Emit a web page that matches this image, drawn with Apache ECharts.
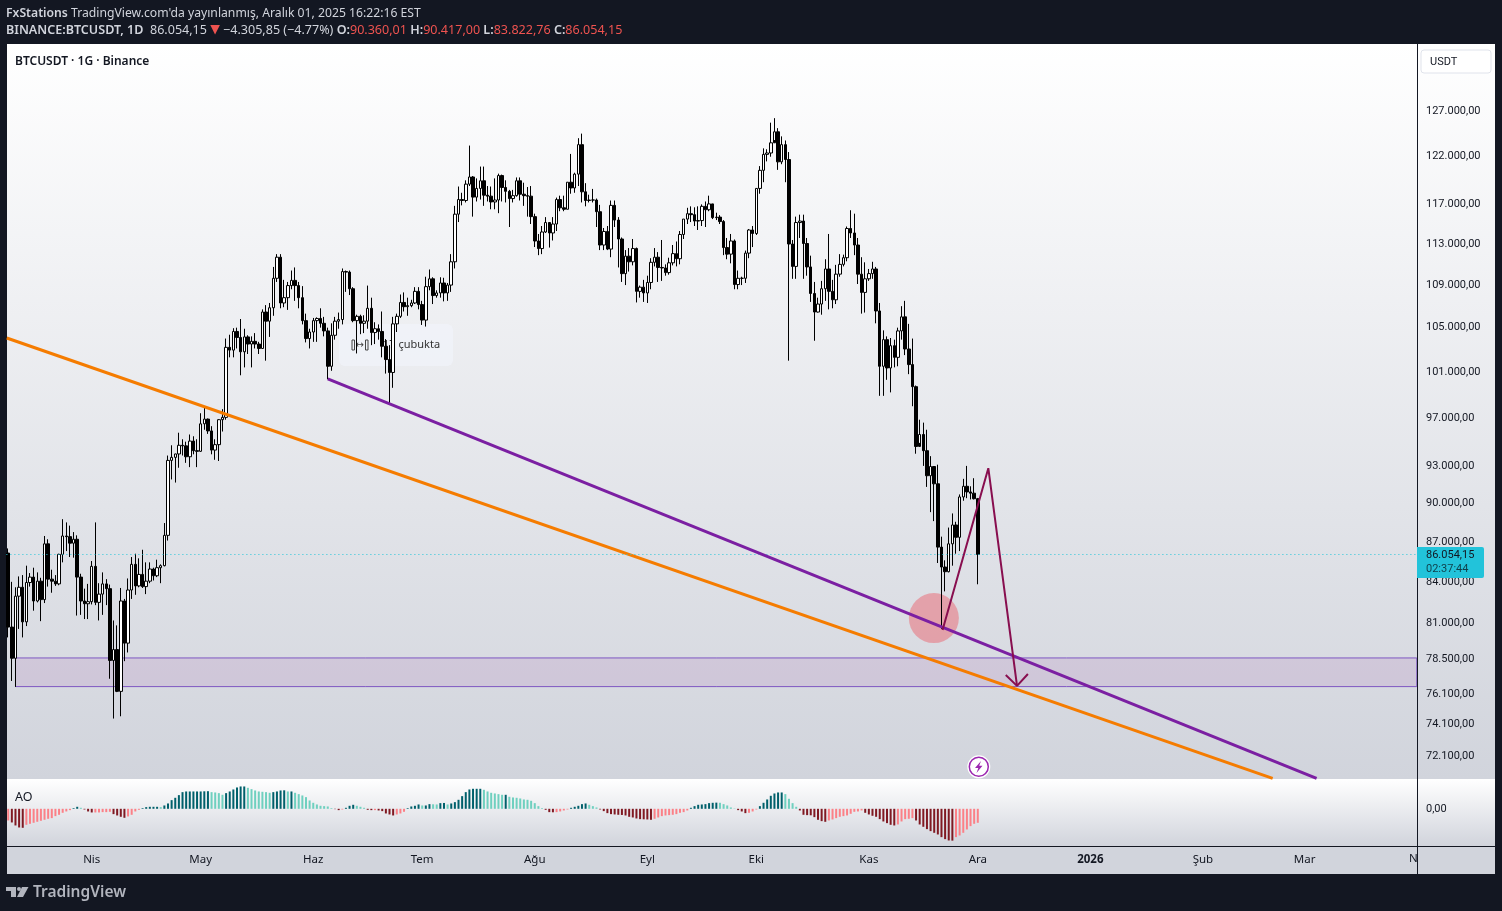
<!DOCTYPE html>
<html><head><meta charset="utf-8">
<style>html,body{margin:0;padding:0;background:#131722;overflow:hidden}#c{width:1502px;height:911px}</style>
<script src="https://cdn.jsdelivr.net/npm/echarts@6/dist/echarts.min.js"></script>
</head><body><div id="c"></div>
<script>
// Prices in thousands of USDT, daily candles from 2025-03-09 to 2025-12-01
const opens=[86.15,80.73,78.55,82.95,83.6,81.1,83.95,84.35,82.6,84.05,82.7,86.85,84.2,84.05,83.85,86.05,87.45,87.4,86.9,87.2,84.35,82.6,82.4,82.55,85.15,82.5,83.1,83.85,83.5,78.4,79.15,76.3,82.6,79.6,83.4,85.3,83.7,84.55,83.65,84.05,84.95,84.45,85.05,85.2,87.5,93.45,93.7,93.98,94.7,94.65,93.75,95.05,94.25,94.2,96.5,96.9,95.9,94.3,94.75,96.85,97.05,103.2,102.95,104.65,104.1,102.8,104.15,103.5,103.75,103.5,103.1,106.45,105.6,106.85,109.65,111.7,107.3,107.8,108.95,109.45,108.95,107.8,105.65,104.0,104.6,105.65,105.85,105.4,104.7,101.5,104.3,105.6,105.75,110.3,110.25,108.65,105.65,106.05,105.4,105.6,106.8,104.55,104.9,104.65,103.3,102.1,100.95,105.35,106.05,107.35,106.95,107.05,107.3,108.4,107.15,105.7,108.85,109.6,108.0,108.25,109.2,108.25,109.0,111.25,116.0,117.5,117.4,119.1,119.85,117.75,118.65,119.45,117.95,117.85,117.25,117.45,120.0,118.75,118.35,117.6,117.9,119.45,118.05,117.9,117.85,115.75,113.3,112.55,114.2,115.15,114.1,115.0,117.5,116.65,116.5,119.3,118.7,120.15,123.3,118.3,117.4,117.45,117.45,116.25,112.9,114.25,112.5,116.9,115.4,113.5,110.1,111.8,111.25,112.55,108.4,108.8,108.25,109.25,111.2,111.7,110.7,110.65,110.2,111.15,112.05,111.55,113.95,115.5,116.05,115.95,115.3,115.35,116.8,116.45,117.05,115.65,115.7,115.25,112.65,112.0,113.3,109.05,109.65,109.65,112.1,114.4,114.05,118.65,120.55,122.25,122.4,123.5,124.7,121.45,123.3,121.7,113.0,110.8,115.15,115.3,113.05,110.75,108.2,106.45,107.2,108.65,110.55,108.4,107.6,110.05,111.0,111.65,114.55,114.1,112.9,110.05,108.3,109.6,110.1,110.55,106.55,101.5,103.9,101.35,103.35,102.3,104.7,106.0,103.05,101.65,99.7,94.6,95.6,94.25,92.2,92.95,91.55,86.6,85.1,84.75,86.85,88.3,87.35,90.5,91.35,90.9,90.8,90.36];
const closes=[80.73,78.55,82.95,83.6,81.1,83.95,84.35,82.6,84.05,82.7,86.85,84.2,84.05,83.85,86.05,87.45,87.4,86.9,87.2,84.35,82.6,82.4,82.55,85.15,82.5,83.1,83.85,83.5,78.4,79.15,76.3,82.6,79.6,83.4,85.3,83.7,84.55,83.65,84.05,84.95,84.45,85.05,85.2,87.5,93.45,93.7,93.98,94.7,94.65,93.75,95.05,94.25,94.2,96.5,96.9,95.9,94.3,94.75,96.85,97.05,103.2,102.95,104.65,104.1,102.8,104.15,103.5,103.75,103.5,103.1,106.45,105.6,106.85,109.65,111.7,107.3,107.8,108.95,109.45,108.95,107.8,105.65,104.0,104.6,105.65,105.85,105.4,104.7,101.5,104.3,105.6,105.75,110.3,110.25,108.65,105.65,106.05,105.4,105.6,106.8,104.55,104.9,104.65,103.3,102.1,100.95,105.35,106.05,107.35,106.95,107.05,107.3,108.4,107.15,105.7,108.85,109.6,108.0,108.25,109.2,108.25,109.0,111.25,116.0,117.5,117.4,119.1,119.85,117.75,118.65,119.45,117.95,117.85,117.25,117.45,120.0,118.75,118.35,117.6,117.9,119.45,118.05,117.9,117.85,115.75,113.3,112.55,114.2,115.15,114.1,115.0,117.5,116.65,116.5,119.3,118.7,120.15,123.3,118.3,117.4,117.45,117.45,116.25,112.9,114.25,112.5,116.9,115.4,113.5,110.1,111.8,111.25,112.55,108.4,108.8,108.25,109.25,111.2,111.7,110.7,110.65,110.2,111.15,112.05,111.55,113.95,115.5,116.05,115.95,115.3,115.35,116.8,116.45,117.05,115.65,115.7,115.25,112.65,112.0,113.3,109.05,109.65,109.65,112.1,114.4,114.05,118.65,120.55,122.25,122.4,123.5,124.7,121.45,123.3,121.7,113.0,110.8,115.15,115.3,113.05,110.75,108.2,106.45,107.2,108.65,110.55,108.4,107.6,110.05,111.0,111.65,114.55,114.1,112.9,110.05,108.3,109.6,110.1,110.55,106.55,101.5,103.9,101.35,103.35,102.3,104.7,106.0,103.05,101.65,99.7,94.6,95.6,94.25,92.2,92.95,91.55,86.6,85.1,84.75,86.85,88.3,87.35,90.5,91.35,90.9,90.8,90.36,86.05];
const highs=[86.5,84.0,83.6,84.4,84.5,85.2,84.65,85.05,84.7,84.3,87.45,87.2,84.9,84.5,86.1,88.75,88.5,88.25,87.75,87.5,84.6,83.5,83.85,85.55,88.5,83.9,84.7,84.2,83.8,81.2,80.85,83.55,82.75,84.25,85.85,86.1,85.75,86.4,85.45,85.45,85.05,85.65,85.3,88.45,93.85,94.7,94.0,95.75,95.2,95.0,95.6,95.45,95.2,97.4,97.9,96.95,96.3,95.2,96.9,97.75,104.0,104.35,104.95,105.0,105.8,104.9,104.3,104.2,104.5,103.7,106.7,107.1,107.3,110.75,112.0,112.0,109.5,109.3,110.4,110.7,109.3,108.9,106.3,104.9,105.9,105.95,106.8,106.0,105.0,105.4,106.0,106.4,110.6,110.4,110.4,108.8,106.2,106.2,106.15,108.95,107.8,105.5,105.3,106.5,103.95,103.4,106.0,106.3,108.1,108.3,107.8,107.6,108.8,108.8,107.5,109.8,110.5,109.75,108.5,109.75,109.7,109.2,112.0,116.85,118.85,118.2,119.5,123.2,119.95,119.7,120.95,120.95,118.9,118.85,119.7,120.2,120.1,119.5,118.5,118.5,119.8,119.8,119.25,118.8,118.9,116.05,114.0,114.8,115.7,115.15,115.7,117.7,117.9,117.9,119.3,122.3,120.3,124.0,124.5,119.2,118.0,118.6,117.6,116.95,114.6,114.8,117.4,117.4,115.7,113.65,112.4,112.6,113.5,112.65,108.95,109.5,109.9,111.6,112.6,112.2,113.4,111.0,111.65,112.9,113.25,114.3,115.5,116.65,116.8,116.7,116.8,117.0,117.3,117.9,117.0,116.15,115.9,115.4,113.6,114.0,113.45,110.4,109.8,112.35,114.5,114.8,118.65,121.0,122.9,122.8,125.7,126.2,125.1,124.2,123.75,122.5,113.4,115.75,115.95,115.95,113.6,111.85,109.3,107.8,109.4,111.5,114.0,109.5,110.95,112.0,111.95,114.75,116.4,116.05,113.6,111.7,111.2,110.55,111.25,110.75,107.3,104.75,104.2,104.05,103.9,105.0,107.0,107.5,105.35,104.0,99.8,96.85,96.6,96.0,93.8,92.95,93.1,87.4,85.6,88.1,89.2,88.55,90.7,91.95,93.0,91.35,92.0,90.42];
const lows=[80.0,77.0,76.6,80.6,80.0,80.8,83.65,81.9,82.5,81.15,82.45,83.65,83.2,83.7,83.75,85.45,86.3,85.85,85.8,81.55,81.6,81.3,81.3,82.35,82.3,81.2,81.6,82.3,77.15,74.5,76.25,74.65,78.35,78.95,82.75,83.05,83.6,83.55,83.1,83.9,84.1,84.35,83.9,85.15,87.1,91.9,91.65,92.85,93.85,93.25,92.9,93.95,92.9,94.15,96.0,95.65,93.95,93.5,93.4,95.85,96.85,102.3,102.3,103.1,100.7,101.4,102.6,101.4,103.1,102.6,103.1,102.0,104.15,106.1,109.3,106.8,106.9,106.65,108.6,107.5,106.8,105.3,103.65,103.1,103.7,103.7,105.0,104.2,100.35,101.1,103.9,104.9,105.3,108.35,108.05,105.5,102.65,104.4,104.5,104.9,103.4,103.5,103.9,102.3,100.85,98.15,99.6,104.6,105.9,106.5,106.1,106.9,107.2,106.7,105.25,105.1,108.5,107.2,107.8,107.8,107.45,107.5,108.35,110.6,115.2,116.9,117.2,118.9,115.75,117.3,117.5,116.85,117.3,116.5,116.5,116.1,117.3,117.2,114.7,117.2,117.8,117.4,116.85,115.75,115.0,112.7,111.9,112.0,114.1,112.65,113.35,114.3,116.3,116.3,116.5,118.1,118.2,118.9,117.2,116.8,117.2,117.2,114.7,112.4,112.4,112.4,111.7,114.7,110.7,109.3,109.0,110.3,110.9,107.35,107.8,107.4,107.3,108.6,110.8,109.3,109.4,109.9,110.0,110.9,110.8,111.0,113.5,115.0,115.2,114.8,114.4,114.8,114.7,116.3,115.5,115.4,115.0,111.9,111.5,111.1,108.6,108.6,109.0,109.2,111.6,112.7,113.9,118.1,119.3,121.5,122.0,123.8,120.6,121.2,119.3,102.0,109.6,109.6,113.6,109.6,109.9,107.4,103.8,106.4,106.2,107.5,106.7,106.8,107.2,109.8,110.8,111.3,113.6,111.9,109.1,106.3,106.4,109.4,109.6,105.4,98.9,98.9,100.3,99.2,101.4,101.5,103.9,102.5,100.8,98.0,94.0,94.9,93.0,91.3,89.3,88.6,85.4,80.6,83.3,84.7,85.2,86.1,86.3,90.2,90.4,90.3,90.3,83.82];
// Awesome Oscillator, read as bar heights from the lower pane
const aoValues=[-35,-41,-50,-56,-57,-48,-45,-42,-39,-36,-33,-30,-28,-22,-18,-12,-8,-4,2,6,3,-2,-8,-11,-11,-11,-10,-10,-9,-16,-20,-24,-27,-23,-18,-8,-3,2,5,6,6,6,5,10,16,26,33,41,50,52,52,52,52,52,52.5,52.8,50,49,47,42,47,52,58,64,67,67,63,59,55,52,51,50,48,50,52,55,55.5,52,52,48,44,40,35,25,18,13,9,8,7,2,-1,-4,-2,3,9,12,9,6,3,-3,-4,-4,-5,-7,-14,-17,-20,-17,-14,-9,2,7,9,13,10,10,14,13.5,13,17,17.5,13,16,20,27,38,50,58,60,60,60,57,52,48,46,44,42,42,36,34,33,31,28,27,24,17,8,2,-3,-10,-10.5,-10,-8,-5,-2,3,6,9,14,16,12,8,4,-2,-7,-13,-16,-17,-18,-18.5,-20,-24,-26,-29,-31,-31.5,-32,-33,-30,-26,-22,-20,-19,-18,-16,-12,-10,-5,3,8,12,13,14,17,18,18.5,18,14,10,4,1,-4,-8,-13,-12,-8,-2,8,18,28,39,46,49,49,44,30,17,6,-5,-18,-19,-19.5,-25,-33,-37,-39,-35,-32,-28,-24,-22,-20,-15,-9,-8,-5,-12,-17,-21,-24,-31,-38,-43,-48,-50,-47,-38,-31,-30,-28,-35,-47,-54,-61,-67,-72,-77,-85,-91,-95,-95.5,-85,-80,-72,-62,-52,-45,-42];
const monthDates=['2025-04-01','2025-05-01','2025-06-01','2025-07-01','2025-08-01','2025-09-01','2025-10-01','2025-11-01','2025-12-01','2026-01-01','2026-02-01','2026-03-01'];
const monthNames=['Nis','May','Haz','Tem','Ağu','Eyl','Eki','Kas','Ara','{b|2026}','Şub','Mar'];
const priceTicks=[127,122,117,113,109,105,101,97,93,90,87,84,81,78.5,76.1,74.1,72.1];
const lastPrice=86.05415;
const zoneTop=78.57, zoneBottom=76.62;
// Drawings as [day index, price]
const orangeTrend=[[-0.4,104.05],[348.2,70.69]];
const purpleTrend=[[88,100.39],[360.3,70.69]];
const projection=[[257.3,80.52],[269.9,92.81],[277.8,76.67]];
const arrowHead=[[274.7,77.4],[277.8,76.67],[280.8,77.47]];
const touchPoint=[[254.9,81.37]];
const zoneEnds=[[2,zoneTop],[387.9,zoneBottom]];

const dayCount=389;
const cats=[];
for(let i=0;i<dayCount;i++){cats.push(new Date(Date.UTC(2025,2,9+i)).toISOString().slice(0,10));}
const candles=opens.map((o,i)=>[o,closes[i],lows[i],highs[i]]);
const fmt=v=>{const s=String(Math.round(v*1000));return s.replace(/\B(?=(\d{3})+$)/g,'.')+',00';};
const FONT='"Noto Sans",sans-serif';
const NUM='Roboto,sans-serif';
const DARK='#131722';

const drawLine=(name,data,color,width,z)=>({name,type:'line',xAxisIndex:2,yAxisIndex:0,data,symbol:'none',silent:true,z,
  lineStyle:{color,width},itemStyle:{color},animation:false});

const chart=echarts.init(document.getElementById('c'),null,{renderer:'canvas'});
chart.setOption({
  animation:false,
  backgroundColor:DARK,
  grid:[{left:6.4,top:44,width:1412.6,height:735},{left:6.4,top:779,width:1412.6,height:67}],
  xAxis:[
    {type:'category',gridIndex:0,data:cats,show:false,boundaryGap:true},
    {type:'category',gridIndex:1,data:cats,boundaryGap:true,axisLine:{show:false},axisTick:{show:false},
      axisLabel:{interval:(i,v)=>monthDates.includes(v),formatter:v=>monthNames[monthDates.indexOf(v)]||'',color:DARK,fontSize:11.5,fontFamily:FONT,margin:8,hideOverlap:false,
        rich:{b:{fontWeight:'bold',fontSize:11.5,fontFamily:FONT,color:DARK}}}},
    {type:'value',gridIndex:0,min:-0.5,max:388.5,show:false}
  ],
  yAxis:[
    {type:'log',logBase:10,gridIndex:0,position:'right',min:70.65,max:134.69,splitLine:{show:false},axisLine:{show:false},axisTick:{show:false},
      axisLabel:{customValues:priceTicks,formatter:fmt,color:DARK,fontSize:11,fontFamily:NUM,align:'left',margin:7}},
    {type:'value',gridIndex:1,position:'right',min:-111.6,max:89.4,splitLine:{show:false},axisLine:{show:false},axisTick:{show:false},
      axisLabel:{customValues:[0],formatter:()=>'0,00',color:DARK,fontSize:11,fontFamily:NUM,align:'left',margin:7}}
  ],
  series:[
    {name:'Zone',type:'line',xAxisIndex:2,yAxisIndex:0,data:zoneEnds,symbol:'none',silent:true,z:1,lineStyle:{width:0,opacity:0},
      markArea:{silent:true,itemStyle:{color:'rgba(156,80,170,0.13)',borderColor:'#7e57c2',borderWidth:1},
        data:[[{xAxis:zoneEnds[0][0],yAxis:zoneEnds[0][1]},{xAxis:zoneEnds[1][0],yAxis:zoneEnds[1][1]}]]}},
    {name:'Touch',type:'scatter',xAxisIndex:2,yAxisIndex:0,data:touchPoint,symbolSize:50,silent:true,z:1,itemStyle:{color:'rgba(233,116,127,0.72)'}},
    {name:'BTCUSDT',type:'candlestick',xAxisIndex:0,yAxisIndex:0,data:candles,barWidth:3,silent:true,z:3,
      itemStyle:{color:'#ffffff',color0:'#000000',borderColor:'#000000',borderColor0:'#000000',borderWidth:1},
      markLine:{silent:true,symbol:'none',label:{show:false},lineStyle:{color:'#26c6da',type:[1,3],width:1},data:[{yAxis:lastPrice}]}},
    drawLine('Orange trend',orangeTrend,'#f57c00',3,4),
    drawLine('Purple trend',purpleTrend,'#7b1fa2',3,5),
    drawLine('Projection',projection,'#880e4f',2,6),
    drawLine('Arrow',arrowHead,'#880e4f',2,6),
    {name:'AO',type:'bar',xAxisIndex:1,yAxisIndex:1,data:aoValues,barWidth:2,silent:true,
      itemStyle:{color:p=>{const i=p.dataIndex,v=aoValues[i],up=i===0?v>aoValues[1]:v>=aoValues[i-1];
        if(v>=0)return up?'#00606b':'#6fd0bf';return up?'#fb8087':'#801922';}}}
  ],
  graphic:{elements:[
    {type:'rect',z:-2,shape:{x:7,y:44,width:1488,height:735},style:{fill:new echarts.graphic.LinearGradient(0,0,0,1,[{offset:0,color:'#ffffff'},{offset:1,color:'#d1d4dc'}])}},
    {type:'rect',z:-2,shape:{x:7,y:779,width:1488,height:67},style:{fill:new echarts.graphic.LinearGradient(0,0,0,1,[{offset:0,color:'#ffffff'},{offset:1,color:'#d1d4dc'}])}},
    {type:'rect',z:-2,shape:{x:7,y:846,width:1488,height:28},style:{fill:'#d1d4dc'}},
    {type:'rect',z:-1,shape:{x:339,y:324,width:114,height:42,r:6},style:{fill:'rgba(240,243,250,0.75)'}},
    {type:'rect',z:-1,shape:{x:352,y:340,width:2.5,height:10},style:{fill:'none',stroke:'#444',lineWidth:1}},
    {type:'rect',z:-1,shape:{x:365.5,y:340,width:2.5,height:10},style:{fill:'none',stroke:'#444',lineWidth:1}},
    {type:'text',z:-1,x:355.5,y:345,style:{text:'↔',fill:'#444',font:'10px "DejaVu Sans"',verticalAlign:'middle'}},
    {type:'text',z:-1,x:383,y:344.5,style:{text:'17 çubukta',fill:'#333',font:'11px '+FONT,verticalAlign:'middle'}},
    {type:'rect',z:20,shape:{x:7,y:846,width:1488,height:1},style:{fill:DARK}},
    {type:'rect',z:20,shape:{x:1417,y:44,width:1,height:830},style:{fill:DARK}},
    {type:'text',z:20,x:1409,y:859,style:{text:'N',fill:DARK,font:'11.5px '+FONT,verticalAlign:'middle'}},
    {type:'rect',z:21,shape:{x:1421,y:50,width:70,height:23,r:3},style:{fill:'#ffffff',stroke:'#e0e3eb',lineWidth:1}},
    {type:'text',z:22,x:1430,y:62,style:{text:'USDT',fill:DARK,font:'11px '+NUM,verticalAlign:'middle'}},
    {type:'rect',z:21,shape:{x:1417,y:547,width:67,height:31,r:[0,2,2,0]},style:{fill:'#22c3da'}},
    {type:'text',z:22,x:1426,y:555.5,style:{text:'86.054,15',fill:DARK,font:'11px '+NUM,verticalAlign:'middle'}},
    {type:'text',z:22,x:1426,y:569,style:{text:'02:37:44',fill:'#0f3f4a',font:'11px '+NUM,verticalAlign:'middle'}},
    {type:'text',z:22,x:15,y:61.5,style:{text:'BTCUSDT · 1G · Binance',fill:DARK,font:'600 12px '+FONT,verticalAlign:'middle'}},
    {type:'text',z:22,x:15,y:797,style:{text:'AO',fill:DARK,font:'12.5px '+FONT,verticalAlign:'middle'}},
    {type:'circle',z:22,shape:{cx:978.8,cy:766.8,r:11.5},style:{fill:'#ffffff'}},
    {type:'circle',z:22,shape:{cx:978.8,cy:766.8,r:9.5},style:{fill:'#ffffff',stroke:'#9c27b0',lineWidth:1.5}},
    {type:'polygon',z:23,shape:{points:[[981,761],[975,768],[978.3,768],[976.5,773],[982.5,765.8],[979.2,765.8]]},style:{fill:'#9c27b0'}},
    {type:'text',z:22,x:6,y:14,style:{text:'{b|FxStations} TradingView.com\'da yayınlanmış, Aralık 01, 2025 16:22:16 EST',fill:'#d1d4dc',font:'12.2px '+FONT,verticalAlign:'middle',
      rich:{b:{fill:'#d1d4dc',font:'600 12.2px '+FONT}}}},
    {type:'text',z:22,x:6,y:30,style:{text:'{b|BINANCE:BTCUSDT, 1D}  86.054,15 {t|▼} −4.305,85 (−4.77%) {b|O:}{r|90.360,01} {b|H:}{r|90.417,00} {b|L:}{r|83.822,76} {b|C:}{r|86.054,15}',fill:'#d1d4dc',font:'12.55px '+FONT,verticalAlign:'middle',
      rich:{b:{fill:'#d1d4dc',font:'600 12.55px '+FONT},r:{fill:'#ef5350',font:'12.55px '+FONT},t:{fill:'#ef5350',font:'12.55px "DejaVu Sans"'}}}},
    {type:'polygon',z:22,shape:{points:[[6,887],[16,887],[16,897],[11,897],[11,891],[6,891]]},style:{fill:'#b2b5be'}},
    {type:'circle',z:22,shape:{cx:19,cy:889,r:2},style:{fill:'#b2b5be'}},
    {type:'polygon',z:22,shape:{points:[[22,887],[28.5,887],[23,897],[17,897]]},style:{fill:'#b2b5be'}},
    {type:'text',z:22,x:33,y:893,style:{text:'TradingView',fill:'#b2b5be',font:'600 15.5px '+FONT,verticalAlign:'middle'}}
  ]}
});
</script></body></html>
